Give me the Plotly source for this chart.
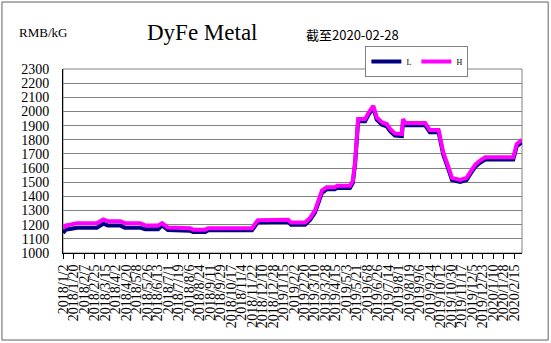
import plotly.graph_objects as go

# ---- data ----
dates = [
    "2018-01-02", "2018-01-07", "2018-01-14", "2018-01-26", "2018-03-01", "2018-03-12",
    "2018-03-20", "2018-04-10", "2018-04-18", "2018-05-14", "2018-05-23", "2018-06-14",
    "2018-06-21", "2018-07-01", "2018-08-08", "2018-08-13", "2018-09-03", "2018-09-08",
    "2018-11-22", "2018-12-02", "2019-01-23", "2019-01-28", "2019-02-21", "2019-03-02",
    "2019-03-10", "2019-03-22", "2019-03-30", "2019-04-13", "2019-04-17", "2019-05-09",
    "2019-05-14", "2019-05-18", "2019-05-23", "2019-06-04", "2019-06-10", "2019-06-18",
    "2019-06-24", "2019-07-03", "2019-07-11", "2019-07-17", "2019-07-25", "2019-08-06",
    "2019-08-08", "2019-08-12", "2019-09-15", "2019-09-23", "2019-10-08", "2019-10-16",
    "2019-10-25", "2019-10-31", "2019-11-14", "2019-11-25", "2019-12-01", "2019-12-10",
    "2019-12-18", "2019-12-27", "2020-02-13", "2020-02-19", "2020-02-28",
]
high = [
    1174, 1195, 1200, 1211, 1211, 1237,
    1225, 1225, 1211, 1211, 1195, 1195,
    1211, 1180, 1175, 1165, 1165, 1175,
    1175, 1232, 1235, 1215, 1215, 1250,
    1300, 1441, 1465, 1465, 1475, 1475,
    1510, 1653, 1946, 1946, 1993, 2040,
    1958, 1922, 1911, 1876, 1845, 1841,
    1946, 1918, 1918, 1869, 1869, 1711,
    1606, 1531, 1517, 1531, 1570, 1625,
    1653, 1676, 1676, 1770, 1800,
]
low = [
    1143, 1165, 1170, 1179, 1179, 1207,
    1195, 1195, 1179, 1179, 1167, 1167,
    1195, 1162, 1158, 1148, 1148, 1160,
    1160, 1218, 1220, 1200, 1200, 1235,
    1285, 1425, 1450, 1450, 1460, 1460,
    1495, 1638, 1930, 1930, 1978, 2025,
    1942, 1906, 1895, 1860, 1830, 1826,
    1930, 1902, 1902, 1853, 1853, 1695,
    1590, 1515, 1502, 1515, 1555, 1610,
    1638, 1660, 1660, 1755, 1782,
]
tick_dates = [
    "2018-01-02", "2018-01-20", "2018-02-07", "2018-02-25", "2018-03-15", "2018-04-02",
    "2018-04-20", "2018-05-08", "2018-05-26", "2018-06-13", "2018-07-01", "2018-07-19",
    "2018-08-06", "2018-08-24", "2018-09-11", "2018-09-29", "2018-10-17", "2018-11-04",
    "2018-11-22", "2018-12-10", "2018-12-28", "2019-01-15", "2019-02-02", "2019-02-20",
    "2019-03-10", "2019-03-28", "2019-04-15", "2019-05-03", "2019-05-21", "2019-06-08",
    "2019-06-26", "2019-07-14", "2019-08-01", "2019-08-19", "2019-09-06", "2019-09-24",
    "2019-10-12", "2019-10-30", "2019-11-17", "2019-12-05", "2019-12-23", "2020-01-10",
    "2020-01-28", "2020-02-15",
]
tick_text = [d.replace("-0", "/").replace("-", "/") for d in tick_dates]
y_ticks = list(range(1000, 2301, 100))

fig = go.Figure()
fig.add_trace(go.Scatter(x=dates, y=low, name="L", mode="lines",
                         line=dict(color="#000080", width=4)))
fig.add_trace(go.Scatter(x=dates, y=high, name="H", mode="lines",
                         line=dict(color="#FF00FF", width=4)))

serif = "Liberation Serif"
fig.update_layout(
    width=551, height=343,
    margin=dict(l=63, r=29, t=69, b=90),
    paper_bgcolor="white", plot_bgcolor="white",
    showlegend=True,
    legend=dict(orientation="h", x=0.771, y=1.125, xanchor="center", yanchor="top",
                bordercolor="#808080", borderwidth=1, bgcolor="white",
                font=dict(family=serif, size=8, color="black"),
                itemwidth=30, tracegroupgap=0),
    xaxis=dict(
        type="date", range=["2018-01-02", "2020-02-28"],
        tickvals=tick_dates, ticktext=tick_text, tickangle=-90,
        tickfont=dict(family=serif, size=14, color="black"),
        ticks="outside", ticklen=5, tickcolor="black",
        showline=True, linecolor="black", linewidth=1,
        showgrid=False, zeroline=False,
    ),
    yaxis=dict(
        range=[1000, 2300], tickvals=y_ticks,
        tickfont=dict(family=serif, size=14, color="black"),
        showline=True, linecolor="black", linewidth=1,
        showgrid=True, gridcolor="#808080", gridwidth=1,
        ticks="", ticklabelstandoff=10, zeroline=False,
    ),
    shapes=[
        dict(type="rect", xref="paper", yref="paper", x0=0, x1=1, y0=0, y1=1,
             line=dict(color="#808080", width=1), layer="below"),
        dict(type="rect", xref="paper", yref="paper", x0=-0.133, x1=1.057,
             y0=-0.473, y1=1.364, line=dict(color="#606060", width=1)),
    ],
    annotations=[
        dict(text="RMB/kG", x=-0.0436, y=1.196, xref="paper", yref="paper",
             xanchor="center", yanchor="middle", showarrow=False,
             font=dict(family=serif, size=13, color="black")),
        dict(text="DyFe Metal", x=0.305, y=1.201, xref="paper", yref="paper",
             xanchor="center", yanchor="middle", showarrow=False,
             font=dict(family=serif, size=23, color="black")),
        dict(text="截至2020-02-28", x=0.63, y=1.19, xref="paper", yref="paper",
             xanchor="center", yanchor="middle", showarrow=False,
             font=dict(family="Noto Sans CJK SC", size=13, color="black")),
    ],
)

fig.write_html("out.html")
